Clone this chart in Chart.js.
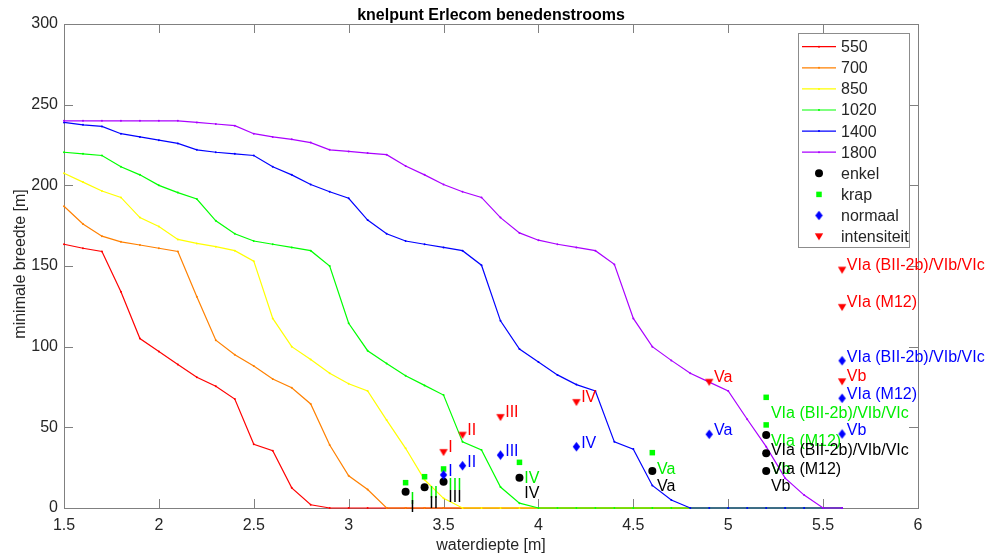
<!DOCTYPE html>
<html><head><meta charset="utf-8">
<script src="https://cdn.jsdelivr.net/npm/chart.js@4.4.1/dist/chart.umd.min.js"></script>
<style>html,body{margin:0;padding:0;background:#fff;}canvas{display:block;}</style>
</head><body>
<canvas id="c" width="999" height="557"></canvas>
<script>
// ---------- data ----------
const depth = [1.5,1.6,1.7,1.8,1.9,2.0,2.1,2.2,2.3,2.4,2.5,2.6,2.7,2.8,2.9,3.0,3.1,3.2,3.3,3.4,3.5,3.6,3.7,3.8,3.9,4.0,4.1,4.2,4.3,4.4,4.5,4.6,4.7,4.8,4.9,5.0,5.1,5.2,5.3,5.4,5.5,5.6];
const w550  = [163.5,161,159,134,105,97,89,81,75.5,67.5,39.5,35.5,12.5,2,0,0,0,0,0,0,0,0,0,0,0,0,0,0,0,0,0,0,0,0,0,0,0,0,0,0,0,0];
const w700  = [187,176,168.5,165,163,161,159,131,104,95,88,80,74.5,64.5,39,20,11.5,0,0,0,0,0,0,0,0,0,0,0,0,0,0,0,0,0,0,0,0,0,0,0,0,0];
const w850  = [207.5,202,196.5,192.5,180,174.5,166.5,164,162,159.5,153,117.5,100,92,83.5,77,72.5,54.5,37,17.5,6,0,0,0,0,0,0,0,0,0,0,0,0,0,0,0,0,0,0,0,0,0];
const w1020 = [220.5,219.5,218.5,211.5,206.5,200,195.5,191.5,178,170,165.5,163.5,161.5,159.5,150,114.5,97.5,89.5,82,76,70,41,36,13,3,0,0,0,0,0,0,0,0,0,0,0,0,0,0,0,0,0];
const w1400 = [239,237.5,236.5,232,230,228,226,222,220.5,219.5,218.5,211.5,206.5,200.5,196,192,178.5,170,165.5,163.5,161.5,159.5,150.5,116,98.5,90.5,82.5,76.5,72.5,41,36.5,14,5,0,0,0,0,0,0,0,0,0];
const w1800 = [240,240,240,240,240,240,240,239,238,237,232,230,228.5,226.5,222,221,220,219,212,206.5,200.5,196,192.5,180,170.5,166,163.5,161.5,159.5,151,117.5,100,91.5,83.5,78,72.5,55,38,18.5,8,0,0];
const seriesNames = ['550','700','850','1020','1400','1800'];

const labelsRoman = ['I','II','III','IV','Va','VIa (BII-2b)/VIb/VIc','VIa (M12)','Vb'];
const enkelX = [3.3,3.4,3.5,3.9,4.6,5.2,5.2,5.2];
const enkelY = [10,12.8,16.3,18.8,23,45.2,33.9,23];
const krapX  = [3.3,3.4,3.5,3.9,4.6,5.2,5.2,5.2];
const krapY  = [15.7,19.4,24.2,28.3,34.3,68.6,51.5,34];
const normaalX = [3.5,3.6,3.8,4.2,4.9,5.6,5.6,5.6];
const normaalY = [20.5,26.2,32.8,38,45.7,91.3,68,45.9];
const intensX  = [3.5,3.6,3.8,4.2,4.9,5.6,5.6,5.6];
const intensY  = [34.5,45.2,56.2,65.5,78,147.5,124.4,78.3];

const xTicks = [1.5,2,2.5,3,3.5,4,4.5,5,5.5,6];
const xTickLabels = ['1.5','2','2.5','3','3.5','4','4.5','5','5.5','6'];
const yTicks = [0,50,100,150,200,250,300];
const yTickLabels = ['0','50','100','150','200','250','300'];

const titleText = 'knelpunt Erlecom benedenstrooms';
const xTitle = 'waterdiepte [m]';
const yTitle = 'minimale breedte [m]';

// ---------- styles ----------
const FONT = "'Liberation Sans', Arial, Helvetica, sans-serif";
const lineColors = ['#ff0000','#ff8000','#ffff00','#00ff00','#0000ff','#aa00ff'];
const AXIS = '#808080';
const TXT = '#262626';

function mkDiamond(){
  const c=document.createElement('canvas'); c.width=9; c.height=11;
  const g=c.getContext('2d'); g.fillStyle='#0000ff';
  g.beginPath(); g.moveTo(4.5,0.8); g.lineTo(8.2,5.5); g.lineTo(4.5,10.2); g.lineTo(0.8,5.5); g.closePath(); g.fill();
  return c;
}
function mkTri(){
  const c=document.createElement('canvas'); c.width=10; c.height=9;
  const g=c.getContext('2d'); g.fillStyle='#ff0000';
  g.beginPath(); g.moveTo(0.8,1.2); g.lineTo(9.2,1.2); g.lineTo(5,8.3); g.closePath(); g.fill();
  return c;
}
const diamondImg = mkDiamond();
const triImg = mkTri();

const lineSets = [w550,w700,w850,w1020,w1400,w1800].map((arr,k)=>({
  label: seriesNames[k],
  data: depth.map((x,i)=>({x:x, y:arr[i]})),
  showLine: true,
  borderColor: lineColors[k],
  backgroundColor: lineColors[k],
  borderWidth: 1.2,
  pointRadius: 1,
  pointBorderWidth: 0,
  pointStyle: 'circle',
  clip: false,
  order: 20 - k,
  _kind: 'line'
}));

function pts(xs, ys){ return xs.map((x,i)=>({x:x, y:ys[i]})); }

const markerSets = [
  {label:'enkel', data:pts(enkelX,enkelY), pointStyle:'circle', pointRadius:4, backgroundColor:'#000000', borderColor:'#000000', borderWidth:0, order:3, _kind:'circle'},
  {label:'krap', data:pts(krapX,krapY), pointStyle:'rect', pointRadius:3.9, backgroundColor:'#00ff00', borderColor:'#00ff00', borderWidth:0, order:4, _kind:'rect'},
  {label:'normaal', data:pts(normaalX,normaalY), pointStyle:diamondImg, pointRadius:5, backgroundColor:'#0000ff', borderColor:'#0000ff', borderWidth:0, order:2, _kind:'diamond'},
  {label:'intensiteit', data:pts(intensX,intensY), pointStyle:triImg, pointRadius:5, backgroundColor:'#ff0000', borderColor:'#ff0000', borderWidth:0, order:1, _kind:'tri'}
].map(d=>Object.assign(d,{showLine:false, clip:false}));

const labelGroups = [
  {xs:krapX, ys:krapY, color:'#00ee00', dx:0.025, dy:-9.5},
  {xs:enkelX, ys:enkelY, color:'#000000', dx:0.025, dy:-9},
  {xs:normaalX, ys:normaalY, color:'#0000ff', dx:0.025, dy:3},
  {xs:intensX, ys:intensY, color:'#ff0000', dx:0.025, dy:3.7}
];

const decorPlugin = {
  id:'decor',
  beforeDatasetsDraw(chart){
    const {ctx, chartArea:a, scales:{x,y}} = chart;
    ctx.save();
    ctx.strokeStyle = AXIS; ctx.lineWidth = 1;
    ctx.strokeRect(Math.round(a.left)+0.5, Math.round(a.top)+0.5, Math.round(a.right-a.left), Math.round(a.bottom-a.top));
    const TL = 9;
    ctx.beginPath();
    x.ticks.forEach(t=>{
      const px = Math.round(x.getPixelForValue(t.value))+0.5;
      ctx.moveTo(px, a.bottom); ctx.lineTo(px, a.bottom-TL);
      ctx.moveTo(px, a.top); ctx.lineTo(px, a.top+TL);
    });
    y.ticks.forEach(t=>{
      const py = Math.round(y.getPixelForValue(t.value))+0.5;
      ctx.moveTo(a.left, py); ctx.lineTo(a.left+TL, py);
      ctx.moveTo(a.right, py); ctx.lineTo(a.right-TL, py);
    });
    ctx.stroke();
    ctx.restore();
  },
  afterDatasetsDraw(chart){
    const {ctx, scales:{x,y}} = chart;
    ctx.save();
    ctx.font = '16px ' + FONT;
    ctx.textAlign = 'left'; ctx.textBaseline = 'alphabetic';
    labelGroups.forEach(g=>{
      ctx.fillStyle = g.color;
      g.xs.forEach((xv,i)=>{
        const px = x.getPixelForValue(xv + g.dx);
        const py = y.getPixelForValue(g.ys[i] + g.dy);
        ctx.fillText(labelsRoman[i], px, py + 5.7);
      });
    });
    ctx.restore();
  },
  afterDraw(chart){
    const {ctx, chartArea:a} = chart;
    ctx.save();
    const cx = (a.left + a.right)/2;
    // title
    ctx.fillStyle = '#000';
    ctx.font = 'bold 16px ' + FONT;
    ctx.textAlign = 'center'; ctx.textBaseline = 'alphabetic';
    ctx.fillText(titleText, cx, 20);
    // axis titles
    ctx.fillStyle = TXT;
    ctx.font = '16px ' + FONT;
    ctx.fillText(xTitle, cx, 550);
    ctx.save();
    ctx.translate(25, (a.top + a.bottom)/2 - 2);
    ctx.rotate(-Math.PI/2);
    ctx.fillText(yTitle, 0, 0);
    ctx.restore();
    // legend
    const L = {x0:798.5, y0:33.5, w:111, h:214};
    ctx.fillStyle = '#fff';
    ctx.fillRect(L.x0, L.y0, L.w, L.h);
    ctx.strokeStyle = '#8c8c8c'; ctx.lineWidth = 1;
    ctx.strokeRect(L.x0, L.y0, L.w, L.h);
    const items = chart.data.datasets;
    ctx.font = '16px ' + FONT;
    ctx.textAlign = 'left'; ctx.textBaseline = 'middle';
    items.forEach((d,i)=>{
      const yy = 46.7 + i*21.1;
      const mx = 819;
      if (d._kind === 'line'){
        ctx.strokeStyle = d.borderColor; ctx.lineWidth = 1.2;
        ctx.beginPath(); ctx.moveTo(802, yy); ctx.lineTo(836, yy); ctx.stroke();
        ctx.fillStyle = d.borderColor;
        ctx.beginPath(); ctx.arc(mx, yy, 1, 0, Math.PI*2); ctx.fill();
      } else if (d._kind === 'circle'){
        ctx.fillStyle = '#000';
        ctx.beginPath(); ctx.arc(mx, yy, 4, 0, Math.PI*2); ctx.fill();
      } else if (d._kind === 'rect'){
        ctx.fillStyle = '#00ff00';
        ctx.fillRect(mx-2.75, yy-2.75, 5.5, 5.5);
      } else if (d._kind === 'diamond'){
        ctx.drawImage(diamondImg, mx - diamondImg.width/2, yy - diamondImg.height/2);
      } else {
        ctx.drawImage(triImg, mx - triImg.width/2, yy - triImg.height/2);
      }
      ctx.fillStyle = TXT;
      ctx.fillText(d.label, 841, yy + 1);
    });
    ctx.restore();
  }
};

Chart.defaults.font.family = FONT;

new Chart(document.getElementById('c'), {
  type: 'scatter',
  data: { datasets: lineSets.concat(markerSets) },
  options: {
    responsive: false,
    animation: false,
    events: [],
    layout: { padding: { left: 0, top: 24, right: 81, bottom: 0 } },
    plugins: { legend: { display: false }, tooltip: { enabled: false }, title: { display: false } },
    scales: {
      x: {
        type: 'linear', min: 1.5, max: 6,
        afterFit(s){ s.height = 49; },
        afterBuildTicks(s){ s.ticks = xTicks.map(v=>({value:v})); },
        ticks: { callback: (v,i)=>xTickLabels[i], color: TXT, font: { size: 16 }, padding: 8, maxRotation: 0, autoSkip: false },
        grid: { display: false, drawTicks: false },
        border: { display: false }
      },
      y: {
        type: 'linear', min: 0, max: 300,
        afterFit(s){ s.width = 64; },
        afterBuildTicks(s){ s.ticks = yTicks.map(v=>({value:v})); },
        ticks: { callback: (v,i)=>yTickLabels[i], color: TXT, font: { size: 16 }, padding: 6, autoSkip: false },
        grid: { display: false, drawTicks: false },
        border: { display: false }
      }
    }
  },
  plugins: [decorPlugin]
});
</script>
</body></html>
